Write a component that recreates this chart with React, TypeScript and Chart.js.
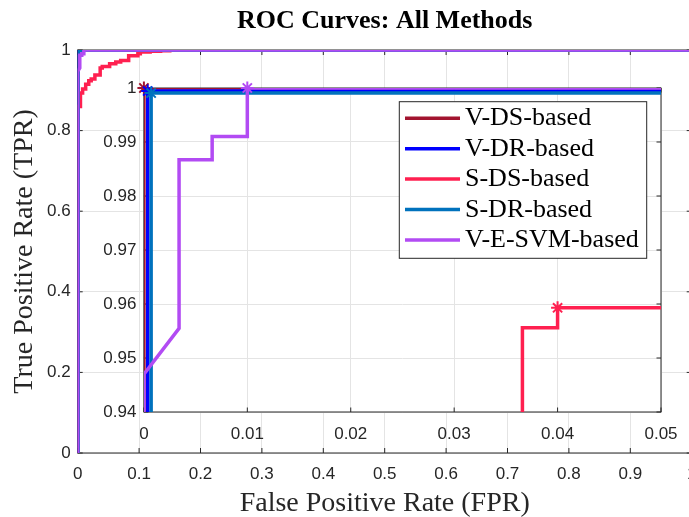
import React, { useEffect, useRef } from "react";
import { Chart, registerables } from "chart.js";

Chart.register(...registerables);

// ---- series ----
const seriesNames = ["V-DS-based", "V-DR-based", "S-DS-based", "S-DR-based", "V-E-SVM-based"];
const seriesColors = ["#A2142F", "#0000FF", "#FF2050", "#0072BD", "#B24BF3"];

const vdsFpr = [0, 0, 1];
const vdsTpr = [0, 1, 1];

const vdrFpr = [0.00037, 0.00037, 1];
const vdrTpr = [0, 0.99944, 0.99944];

const sdsFpr = [
  0, 0, 0.0045, 0.0045, 0.008, 0.008, 0.013, 0.013, 0.018, 0.018, 0.022, 0.022, 0.028, 0.028,
  0.0366, 0.0366, 0.04, 0.04, 0.052, 0.052, 0.062, 0.062, 0.07, 0.07, 0.083, 0.083, 0.098, 0.098,
  0.102, 0.102, 0.118, 0.118, 0.135, 0.135, 0.15, 0.15, 1,
];
const sdsTpr = [
  0, 0.86, 0.86, 0.893, 0.893, 0.903, 0.903, 0.915, 0.915, 0.924, 0.924, 0.928, 0.928, 0.938,
  0.938, 0.9556, 0.9556, 0.9593, 0.9593, 0.966, 0.966, 0.97, 0.97, 0.974, 0.974, 0.986, 0.986,
  0.991, 0.991, 0.995, 0.995, 0.997, 0.997, 0.998, 0.998, 1, 1,
];

const sdrFpr = [0.0007, 0.0007, 1];
const sdrTpr = [0, 0.99907, 0.99907];

const svmFpr = [0, 0, 0.0034, 0.0034, 0.0066, 0.0066, 0.01, 0.01, 1];
const svmTpr = [0, 0.947, 0.9555, 0.9867, 0.9867, 0.991, 0.991, 1, 1];

// operating points (one per series) marked with asterisks in the zoomed view
const markerFpr = [0, 0.00037, 0.04, 0.0007, 0.01];
const markerTpr = [1, 0.99944, 0.9593, 0.99907, 1];

// ---- ticks ----
const mainXTicks = [0, 0.1, 0.2, 0.3, 0.4, 0.5, 0.6, 0.7, 0.8, 0.9, 1];
const mainXLabels = ["0", "0.1", "0.2", "0.3", "0.4", "0.5", "0.6", "0.7", "0.8", "0.9", "1"];
const mainYTicks = [0, 0.2, 0.4, 0.6, 0.8, 1];
const mainYLabels = ["0", "0.2", "0.4", "0.6", "0.8", "1"];
const insetXTicks = [0, 0.01, 0.02, 0.03, 0.04, 0.05];
const insetXLabels = ["0", "0.01", "0.02", "0.03", "0.04", "0.05"];
const insetYTicks = [0.94, 0.95, 0.96, 0.97, 0.98, 0.99, 1];
const insetYLabels = ["0.94", "0.95", "0.96", "0.97", "0.98", "0.99", "1"];

const titleText = "ROC Curves: All Methods";
const xTitleText = "False Positive Rate (FPR)";
const yTitleText = "True Positive Rate (TPR)";

const AXIS_COLOR = "#262626";
const GRID_COLOR = "#e4e4e4";
const SANS = "'Liberation Sans', Arial, sans-serif";
const SERIF = "'Liberation Serif', 'Times New Roman', serif";
const LINE_WIDTH = 3.5;

const curves = [
  { fpr: vdsFpr, tpr: vdsTpr },
  { fpr: vdrFpr, tpr: vdrTpr },
  { fpr: sdsFpr, tpr: sdsTpr },
  { fpr: sdrFpr, tpr: sdrTpr },
  { fpr: svmFpr, tpr: svmTpr },
];

function lineDatasets(withMarkers: boolean) {
  const n = curves.length;
  const lines: any[] = curves.map((c, i) => ({
    type: "line",
    label: seriesNames[i],
    data: c.fpr.map((x, j) => ({ x, y: c.tpr[j] })),
    borderColor: seriesColors[i],
    backgroundColor: seriesColors[i],
    borderWidth: LINE_WIDTH,
    pointRadius: 0,
    tension: 0,
    fill: false,
    // later series are painted over earlier ones
    order: 20 + n - i,
  }));
  if (!withMarkers) return lines;
  const marks = markerFpr.map((x, i) => ({
    type: "line",
    label: seriesNames[i] + " point",
    data: [{ x, y: markerTpr[i] }],
    showLine: false,
    pointStyle: "star",
    pointRadius: 6.5,
    pointBorderWidth: 2,
    pointBorderColor: seriesColors[i],
    pointBackgroundColor: seriesColors[i],
    borderColor: seriesColors[i],
    clip: false,
    order: n - i,
  }));
  return [...lines, ...marks];
}

function linearAxis(
  min: number,
  max: number,
  values: number[],
  labels: string[],
  padding: number,
  fit: (s: any) => void
) {
  return {
    type: "linear",
    min,
    max,
    afterBuildTicks: (s: any) => {
      s.ticks = values.map((v) => ({ value: v }));
    },
    afterFit: (s: any) => {
      fit(s);
      // the plot box is placed by the layout padding alone
      s.paddingLeft = 0;
      s.paddingRight = 0;
      s.paddingTop = 0;
      s.paddingBottom = 0;
    },
    ticks: {
      autoSkip: false,
      maxRotation: 0,
      padding,
      color: AXIS_COLOR,
      font: { family: SANS, size: 17 },
      callback: (_v: any, i: number) => labels[i],
    },
    grid: { color: GRID_COLOR, lineWidth: 1, drawTicks: false },
    border: { display: false },
  };
}

// axes box with inward-pointing tick marks on all four sides
function framePlugin(tickLen: number) {
  return {
    id: "frame",
    beforeDatasetsDraw(chart: any) {
      const { ctx, chartArea: a, scales } = chart;
      ctx.save();
      ctx.strokeStyle = AXIS_COLOR;
      ctx.lineWidth = 1;
      ctx.strokeRect(a.left, a.top, a.right - a.left, a.bottom - a.top);
      ctx.beginPath();
      for (const t of scales.x.ticks) {
        const px = scales.x.getPixelForValue(t.value);
        ctx.moveTo(px, a.bottom);
        ctx.lineTo(px, a.bottom - tickLen);
        ctx.moveTo(px, a.top);
        ctx.lineTo(px, a.top + tickLen);
      }
      for (const t of scales.y.ticks) {
        const py = scales.y.getPixelForValue(t.value);
        ctx.moveTo(a.left, py);
        ctx.lineTo(a.left + tickLen, py);
        ctx.moveTo(a.right, py);
        ctx.lineTo(a.right - tickLen, py);
      }
      ctx.stroke();
      ctx.restore();
    },
  };
}

const whitePlotArea = {
  id: "whitePlotArea",
  beforeDraw(chart: any) {
    const { ctx, chartArea: a } = chart;
    ctx.save();
    ctx.fillStyle = "#ffffff";
    ctx.fillRect(a.left, a.top, a.right - a.left, a.bottom - a.top);
    ctx.restore();
  },
};

const titlesPlugin = {
  id: "titles",
  afterDraw(chart: any) {
    const { ctx, chartArea: a } = chart;
    const cx = (a.left + a.right) / 2;
    ctx.save();
    ctx.fillStyle = "#000000";
    ctx.textAlign = "center";
    ctx.textBaseline = "alphabetic";
    ctx.font = `bold 26px ${SERIF}`;
    ctx.fillText(titleText, cx, 28);
    ctx.fillStyle = AXIS_COLOR;
    ctx.font = `28px ${SERIF}`;
    ctx.fillText(xTitleText, cx, 510.5);
    ctx.translate(32, (a.top + a.bottom) / 2);
    ctx.rotate(-Math.PI / 2);
    ctx.fillText(yTitleText, 0, 0);
    ctx.restore();
  },
};

const legendPlugin = {
  id: "boxLegend",
  afterDatasetsDraw(chart: any) {
    const { ctx, chartArea: a } = chart;
    const w = 247.4;
    const h = 156.6;
    const left = a.right - 14.3 - w;
    const top = a.top + 13.7;
    ctx.save();
    ctx.fillStyle = "#ffffff";
    ctx.fillRect(left, top, w, h);
    ctx.strokeStyle = AXIS_COLOR;
    ctx.lineWidth = 1;
    ctx.strokeRect(left, top, w, h);
    ctx.font = `26px ${SERIF}`;
    ctx.textAlign = "left";
    ctx.textBaseline = "alphabetic";
    seriesNames.forEach((name, i) => {
      const y = top + 16.6 + i * 30.4;
      ctx.strokeStyle = seriesColors[i];
      ctx.lineWidth = LINE_WIDTH;
      ctx.beginPath();
      ctx.moveTo(left + 5.7, y);
      ctx.lineTo(left + 60.7, y);
      ctx.stroke();
      ctx.fillStyle = "#000000";
      ctx.fillText(name, left + 65.7, y + 7);
    });
    ctx.restore();
  },
};

export default function App() {
  const mainRef = useRef<HTMLCanvasElement>(null);
  const insetRef = useRef<HTMLCanvasElement>(null);

  useEffect(() => {
    const common = {
      responsive: false,
      maintainAspectRatio: false,
      animation: false,
      devicePixelRatio: 1,
      events: [],
      plugins: { legend: { display: false }, tooltip: { enabled: false } },
    };

    const main = new Chart(mainRef.current as HTMLCanvasElement, {
      type: "line",
      data: { datasets: lineDatasets(false) },
      options: {
        ...common,
        layout: { padding: { top: 50, right: 8.3, left: 0, bottom: 0 } },
        scales: {
          x: {
            ...linearAxis(0, 1, mainXTicks, mainXLabels, 11, (s: any) => {
              s.height = 64;
            }),
            position: "bottom",
          },
          y: {
            ...linearAxis(0, 1, mainYTicks, mainYLabels, 7, (s: any) => {
              s.width = 77.7;
            }),
            position: "left",
          },
        },
      } as any,
      plugins: [framePlugin(5), titlesPlugin],
    } as any);

    const inset = new Chart(insetRef.current as HTMLCanvasElement, {
      type: "line",
      data: { datasets: lineDatasets(true) },
      options: {
        ...common,
        layout: { padding: { top: 18, right: 29, left: 0, bottom: 0 } },
        scales: {
          x: {
            ...linearAxis(0, 0.05, insetXTicks, insetXLabels, 12, (s: any) => {
              s.height = 38;
            }),
            position: "bottom",
          },
          y: {
            ...linearAxis(0.94, 1, insetYTicks, insetYLabels, 7.5, (s: any) => {
              s.width = 53.9;
            }),
            position: "left",
          },
        },
      } as any,
      plugins: [whitePlotArea, framePlugin(4.5), legendPlugin],
    } as any);

    return () => {
      main.destroy();
      inset.destroy();
    };
  }, []);

  return (
    <div style={{ position: "fixed", left: 0, top: 0, width: 700, height: 517, background: "#ffffff" }}>
      <canvas
        ref={mainRef}
        width={700}
        height={517}
        style={{ position: "absolute", left: 0, top: 0, width: 700, height: 517 }}
      />
      <canvas
        ref={insetRef}
        width={600}
        height={380}
        style={{ position: "absolute", left: 90, top: 70, width: 600, height: 380 }}
      />
    </div>
  );
}
